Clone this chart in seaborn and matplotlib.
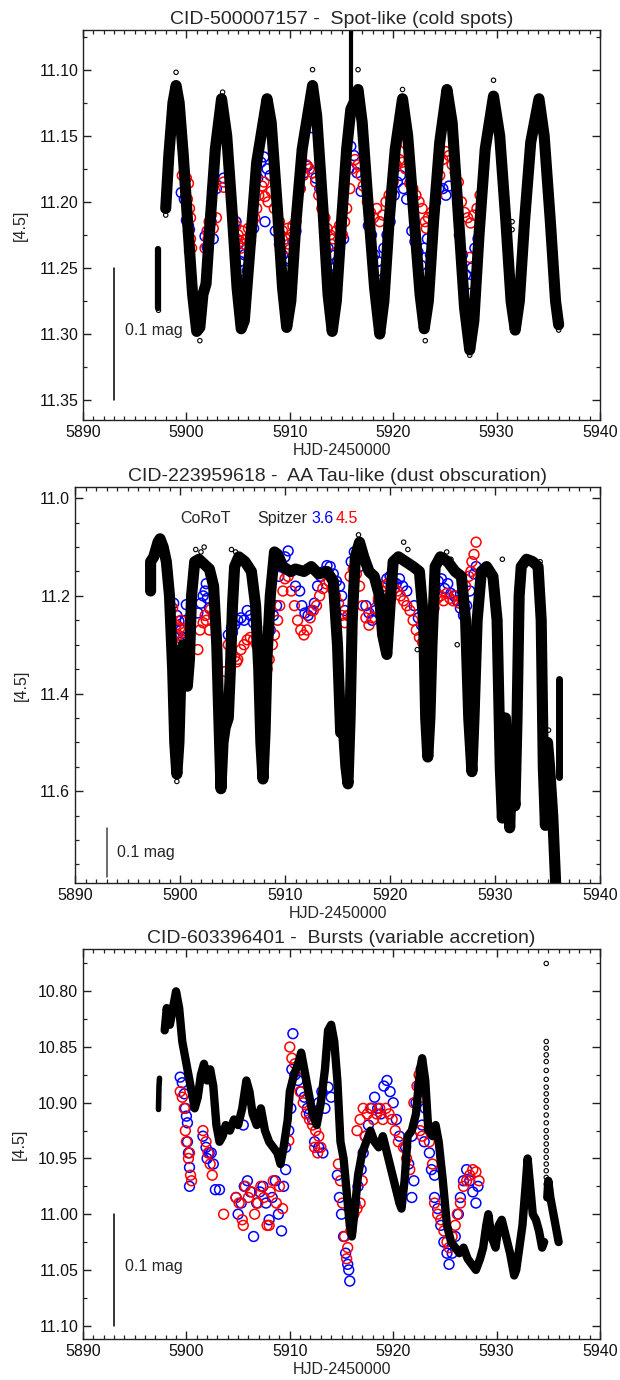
import matplotlib
matplotlib.use("Agg")
import matplotlib.pyplot as plt
from matplotlib.ticker import MultipleLocator, FormatStrFormatter
import numpy as np
import pandas as pd
import seaborn as sns

# ---------------------------------------------------------------
# Panel 1: CID-500007157, spot-like (cold spots)
# ---------------------------------------------------------------
spot_corot_pre = [(5897.25, 11.236), (5897.25, 11.280)]
spot_corot = [
    (5898.0, 11.205), (5898.3, 11.165), (5898.7, 11.125), (5899.0, 11.112),
    (5899.3, 11.125), (5899.7, 11.165), (5900.2, 11.225), (5900.6, 11.270),
    (5901.0, 11.298), (5901.3, 11.295), (5901.6, 11.270), (5901.9, 11.262),
    (5902.3, 11.215), (5902.8, 11.160), (5903.4, 11.122), (5903.9, 11.150),
    (5904.4, 11.205), (5904.9, 11.265), (5905.3, 11.296), (5905.6, 11.290),
    (5906.1, 11.240), (5906.8, 11.170), (5907.8, 11.122), (5908.2, 11.140),
    (5908.8, 11.205), (5909.3, 11.265), (5909.7, 11.295), (5910.1, 11.275),
    (5910.6, 11.215), (5911.2, 11.160), (5912.2, 11.112), (5912.6, 11.135),
    (5913.2, 11.205), (5913.7, 11.270), (5914.1, 11.298), (5914.5, 11.275),
    (5915.0, 11.215), (5915.5, 11.160), (5915.9, 11.130), (5916.2, 11.125),
    (5916.6, 11.115), (5917.0, 11.140), (5917.6, 11.205), (5918.2, 11.265),
    (5918.7, 11.300), (5919.1, 11.275), (5919.6, 11.215), (5920.2, 11.160),
    (5920.9, 11.122), (5921.4, 11.150), (5922.0, 11.210), (5922.6, 11.270),
    (5923.0, 11.296), (5923.4, 11.275), (5923.9, 11.215), (5924.5, 11.155),
    (5925.2, 11.115), (5925.7, 11.140), (5926.3, 11.210), (5926.9, 11.280),
    (5927.4, 11.312), (5927.8, 11.290), (5928.3, 11.225), (5928.9, 11.160),
    (5929.7, 11.120), (5930.3, 11.150), (5930.9, 11.215), (5931.4, 11.275),
    (5931.8, 11.297), (5932.2, 11.275), (5932.7, 11.215), (5933.3, 11.155),
    (5934.1, 11.122), (5934.6, 11.150), (5935.2, 11.215), (5935.7, 11.275),
    (5936.0, 11.293),
]
spot_corot_flare = [(5915.9, 11.135), (5915.9, 11.066)]
spot_corot_stray = [
    (5899.0, 11.102), (5903.5, 11.117), (5912.2, 11.100), (5916.6, 11.100),
    (5920.9, 11.115), (5929.7, 11.108), (5901.3, 11.305), (5923.1, 11.305),
    (5927.4, 11.316), (5931.5, 11.215), (5931.5, 11.221), (5914.2, 11.253),
    (5936.0, 11.297), (5897.3, 11.282), (5898.0, 11.210),
]
spot_irac1 = [
    (5899.5, 11.193), (5899.8, 11.198), (5900.0, 11.214), (5900.2, 11.218),
    (5900.3, 11.221), (5900.3, 11.237), (5901.8, 11.226), (5902.0, 11.234),
    (5902.2, 11.222), (5902.4, 11.215), (5902.6, 11.228), (5902.9, 11.190),
    (5903.6, 11.182), (5904.8, 11.215), (5905.0, 11.232), (5905.2, 11.245),
    (5905.4, 11.252), (5905.6, 11.240), (5905.9, 11.252), (5906.2, 11.230),
    (5906.5, 11.220), (5906.9, 11.182), (5907.2, 11.170), (5907.5, 11.166),
    (5907.8, 11.175), (5908.1, 11.180), (5907.6, 11.215), (5908.6, 11.222),
    (5909.0, 11.232), (5909.3, 11.240), (5909.6, 11.250), (5909.8, 11.262),
    (5910.0, 11.245), (5910.3, 11.230), (5910.6, 11.222), (5911.0, 11.190),
    (5911.4, 11.178), (5911.7, 11.173), (5912.2, 11.144), (5912.5, 11.182),
    (5912.9, 11.190), (5913.4, 11.225), (5913.7, 11.235), (5914.0, 11.240),
    (5914.3, 11.250), (5914.6, 11.245), (5914.9, 11.230), (5915.2, 11.228),
    (5914.4, 11.255), (5915.7, 11.175), (5915.9, 11.158), (5916.2, 11.165),
    (5916.5, 11.178), (5916.9, 11.192), (5917.6, 11.218), (5917.9, 11.225),
    (5918.2, 11.240), (5918.5, 11.245), (5918.8, 11.252), (5919.1, 11.235),
    (5919.4, 11.225), (5919.7, 11.215), (5920.1, 11.195), (5920.4, 11.185),
    (5920.7, 11.180), (5921.0, 11.190), (5921.3, 11.198), (5921.8, 11.222),
    (5922.1, 11.230), (5922.4, 11.238), (5922.7, 11.248), (5923.0, 11.235),
    (5923.3, 11.228), (5923.6, 11.240), (5924.1, 11.200), (5924.4, 11.190),
    (5924.8, 11.190), (5925.1, 11.195), (5925.4, 11.188), (5926.4, 11.225),
    (5926.7, 11.240), (5927.0, 11.255), (5927.3, 11.262), (5927.6, 11.250),
    (5927.9, 11.235), (5928.2, 11.228),
]
spot_irac2 = [
    (5899.6, 11.180), (5899.8, 11.178), (5900.0, 11.182), (5900.2, 11.186),
    (5899.9, 11.190), (5900.1, 11.198), (5900.3, 11.205), (5900.4, 11.212),
    (5900.2, 11.222), (5900.4, 11.228), (5900.5, 11.235), (5901.8, 11.235),
    (5902.0, 11.222), (5902.2, 11.215), (5902.4, 11.210), (5902.6, 11.220),
    (5902.9, 11.212), (5902.1, 11.228), (5903.6, 11.185), (5903.6, 11.189),
    (5904.5, 11.212), (5904.8, 11.218), (5905.0, 11.225), (5905.2, 11.230),
    (5905.4, 11.222), (5905.6, 11.232), (5905.8, 11.228), (5906.0, 11.220),
    (5906.2, 11.226), (5906.4, 11.215), (5906.6, 11.212), (5905.3, 11.235),
    (5906.8, 11.205), (5907.0, 11.195), (5907.3, 11.188), (5907.6, 11.196),
    (5907.9, 11.200), (5908.2, 11.192), (5908.5, 11.205), (5907.5, 11.185),
    (5909.0, 11.215), (5909.3, 11.222), (5909.6, 11.228), (5909.9, 11.232),
    (5910.1, 11.225), (5910.3, 11.218), (5910.6, 11.215), (5909.8, 11.220),
    (5910.0, 11.236), (5911.0, 11.190), (5911.3, 11.180), (5911.6, 11.172),
    (5911.9, 11.175), (5912.2, 11.178), (5912.5, 11.185), (5912.8, 11.195),
    (5913.1, 11.205), (5913.4, 11.212), (5913.6, 11.220), (5913.9, 11.225),
    (5914.2, 11.228), (5914.5, 11.222), (5914.8, 11.218), (5915.1, 11.225),
    (5915.3, 11.215), (5914.0, 11.232), (5915.5, 11.205), (5915.8, 11.190),
    (5916.0, 11.175), (5916.3, 11.168), (5916.6, 11.172), (5916.9, 11.180),
    (5917.1, 11.188), (5917.5, 11.200), (5917.8, 11.208), (5918.1, 11.212),
    (5918.4, 11.205), (5918.7, 11.215), (5919.0, 11.210), (5919.3, 11.200),
    (5919.6, 11.195), (5920.0, 11.185), (5920.3, 11.172), (5920.6, 11.168),
    (5920.9, 11.170), (5921.2, 11.175), (5921.2, 11.156), (5921.6, 11.186),
    (5921.9, 11.190), (5922.2, 11.195), (5922.5, 11.200), (5922.8, 11.205),
    (5923.1, 11.215), (5923.4, 11.212), (5923.7, 11.208), (5923.2, 11.220),
    (5924.2, 11.195), (5924.5, 11.180), (5924.8, 11.168), (5925.1, 11.162),
    (5925.4, 11.165), (5925.7, 11.172), (5926.0, 11.178), (5926.3, 11.185),
    (5926.6, 11.200), (5926.9, 11.208), (5927.2, 11.212), (5927.5, 11.216),
    (5927.8, 11.210), (5928.1, 11.205), (5928.4, 11.195), (5927.4, 11.242),
]

# ---------------------------------------------------------------
# Panel 2: CID-223959618, AA Tau-like (dust obscuration)
# ---------------------------------------------------------------
aatau_corot = [
    (5897.2, 11.19), (5897.2, 11.13), (5897.5, 11.12), (5897.9, 11.09),
    (5898.1, 11.083), (5898.4, 11.10), (5898.7, 11.13), (5899.0, 11.20),
    (5899.3, 11.35), (5899.5, 11.50), (5899.7, 11.565), (5899.9, 11.50),
    (5900.1, 11.35), (5900.3, 11.30), (5900.5, 11.32), (5900.7, 11.385),
    (5900.9, 11.33), (5901.1, 11.20), (5901.4, 11.13), (5901.8, 11.125),
    (5902.3, 11.135), (5902.8, 11.145), (5903.2, 11.18), (5903.5, 11.30),
    (5903.7, 11.45), (5903.9, 11.595), (5904.1, 11.50), (5904.3, 11.47),
    (5904.6, 11.45), (5904.8, 11.35), (5905.0, 11.22), (5905.2, 11.14),
    (5905.6, 11.12), (5906.2, 11.13), (5906.8, 11.15), (5907.2, 11.22),
    (5907.5, 11.35), (5907.7, 11.50), (5907.9, 11.575), (5908.1, 11.48),
    (5908.3, 11.32), (5908.6, 11.20), (5909.0, 11.11), (5909.3, 11.115),
    (5909.8, 11.14), (5910.5, 11.15), (5911.0, 11.145), (5911.8, 11.15),
    (5912.5, 11.14), (5913.2, 11.155), (5914.0, 11.15), (5914.6, 11.17),
    (5915.0, 11.30), (5915.3, 11.48), (5915.5, 11.45), (5915.8, 11.55),
    (5916.0, 11.585), (5916.2, 11.45), (5916.4, 11.25), (5916.7, 11.12),
    (5917.1, 11.09), (5917.5, 11.12), (5918.0, 11.15), (5918.5, 11.16),
    (5919.0, 11.20), (5919.3, 11.28), (5919.7, 11.32), (5920.0, 11.22),
    (5920.3, 11.13), (5920.8, 11.12), (5921.5, 11.13), (5922.2, 11.14),
    (5922.8, 11.15), (5923.2, 11.25), (5923.4, 11.45), (5923.6, 11.53),
    (5923.8, 11.45), (5924.0, 11.30), (5924.3, 11.14), (5924.8, 11.12),
    (5925.5, 11.13), (5926.2, 11.15), (5926.8, 11.16), (5927.2, 11.25),
    (5927.5, 11.45), (5927.8, 11.56), (5928.0, 11.45), (5928.3, 11.25),
    (5928.7, 11.15), (5929.2, 11.14), (5929.8, 11.16), (5930.2, 11.25),
    (5930.5, 11.55), (5930.7, 11.655), (5930.9, 11.55), (5931.0, 11.45),
    (5931.2, 11.58), (5931.4, 11.675), (5931.6, 11.55), (5931.9, 11.63),
    (5932.1, 11.45), (5932.3, 11.20), (5932.5, 11.14), (5933.0, 11.125),
    (5933.6, 11.13), (5934.1, 11.14), (5934.4, 11.25), (5934.6, 11.55),
    (5934.8, 11.67), (5935.0, 11.50), (5935.2, 11.55), (5935.5, 11.65),
    (5935.8, 11.80),
]
aatau_corot_tail = [(5936.05, 11.37), (5936.05, 11.57)]
aatau_corot_stray = [
    (5901.5, 11.105), (5902.0, 11.110), (5902.3, 11.100), (5904.9, 11.105),
    (5905.3, 11.110), (5917.0, 11.075), (5917.1, 11.085), (5921.3, 11.090),
    (5921.7, 11.105), (5925.4, 11.110), (5925.8, 11.125), (5930.7, 11.125),
    (5934.3, 11.130), (5899.7, 11.580), (5903.9, 11.600), (5931.7, 11.470),
    (5935.1, 11.475), (5935.2, 11.595), (5915.3, 11.370), (5916.3, 11.345),
    (5922.6, 11.310), (5926.4, 11.300), (5898.6, 11.130),
]
aatau_irac1 = [
    (5899.4, 11.215), (5899.7, 11.240), (5899.9, 11.252), (5900.1, 11.270),
    (5900.3, 11.285), (5900.0, 11.295), (5900.6, 11.218), (5900.5, 11.250),
    (5901.7, 11.235), (5902.0, 11.215), (5902.2, 11.200), (5902.4, 11.190),
    (5902.6, 11.205), (5902.8, 11.225), (5902.5, 11.175), (5903.2, 11.240),
    (5904.6, 11.280), (5904.9, 11.265), (5905.2, 11.260), (5905.5, 11.250),
    (5905.8, 11.245), (5906.1, 11.250), (5906.4, 11.230), (5906.7, 11.240),
    (5907.0, 11.255), (5907.3, 11.265), (5905.0, 11.275), (5908.0, 11.320),
    (5908.3, 11.300), (5908.6, 11.270), (5908.9, 11.240), (5909.2, 11.220),
    (5909.4, 11.160), (5909.7, 11.140), (5910.0, 11.120), (5910.3, 11.108),
    (5910.6, 11.150), (5911.0, 11.180), (5911.4, 11.190), (5911.6, 11.220),
    (5911.9, 11.235), (5912.2, 11.240), (5912.5, 11.230), (5912.8, 11.215),
    (5913.1, 11.180), (5913.4, 11.160), (5913.7, 11.150), (5914.0, 11.138),
    (5914.3, 11.140), (5914.6, 11.155), (5914.9, 11.170), (5915.2, 11.180),
    (5915.4, 11.200), (5915.7, 11.230), (5916.0, 11.240), (5916.3, 11.130),
    (5916.6, 11.110), (5916.9, 11.115), (5917.1, 11.140), (5917.7, 11.220),
    (5918.0, 11.235), (5918.3, 11.250), (5918.6, 11.230), (5918.9, 11.210),
    (5919.4, 11.180), (5919.7, 11.165), (5920.0, 11.160), (5920.3, 11.170),
    (5920.6, 11.175), (5920.9, 11.165), (5921.2, 11.180), (5921.6, 11.190),
    (5922.3, 11.220), (5922.7, 11.245), (5923.0, 11.260), (5923.3, 11.275),
    (5923.6, 11.280), (5924.0, 11.265), (5924.3, 11.190), (5924.6, 11.170),
    (5924.9, 11.165), (5925.2, 11.185), (5925.5, 11.175), (5925.8, 11.195),
    (5926.1, 11.200), (5926.4, 11.210), (5926.7, 11.225), (5927.0, 11.240),
    (5927.3, 11.220), (5927.6, 11.190), (5928.0, 11.155), (5928.2, 11.140),
]
aatau_irac2 = [
    (5899.3, 11.225), (5899.6, 11.260), (5899.8, 11.280), (5900.0, 11.265),
    (5900.2, 11.290), (5900.4, 11.275), (5900.1, 11.250), (5901.7, 11.310),
    (5901.9, 11.270), (5902.2, 11.255), (5902.5, 11.250), (5902.8, 11.270),
    (5902.4, 11.240), (5902.9, 11.228), (5904.3, 11.355), (5904.6, 11.300),
    (5904.9, 11.310), (5905.2, 11.325), (5905.5, 11.330), (5905.8, 11.310),
    (5906.1, 11.300), (5906.4, 11.290), (5906.7, 11.285), (5907.0, 11.290),
    (5907.3, 11.300), (5905.4, 11.335), (5907.6, 11.320), (5907.8, 11.340),
    (5907.9, 11.380), (5908.1, 11.395), (5908.3, 11.350), (5908.5, 11.330),
    (5908.8, 11.300), (5909.0, 11.280), (5909.3, 11.250), (5909.5, 11.220),
    (5909.8, 11.190), (5910.0, 11.165), (5910.3, 11.160), (5910.6, 11.190),
    (5910.9, 11.220), (5911.2, 11.250), (5911.5, 11.270), (5911.8, 11.280),
    (5912.1, 11.270), (5912.4, 11.245), (5912.7, 11.230), (5913.0, 11.220),
    (5913.3, 11.200), (5913.6, 11.185), (5913.9, 11.175), (5914.2, 11.170),
    (5914.5, 11.185), (5914.8, 11.200), (5915.1, 11.215), (5915.4, 11.240),
    (5915.7, 11.255), (5916.0, 11.240), (5916.2, 11.160), (5916.5, 11.145),
    (5916.8, 11.155), (5917.1, 11.180), (5917.4, 11.220), (5917.7, 11.245),
    (5918.0, 11.260), (5918.3, 11.245), (5918.6, 11.225), (5918.9, 11.205),
    (5919.2, 11.190), (5919.5, 11.180), (5919.8, 11.175), (5920.1, 11.180),
    (5920.4, 11.185), (5920.7, 11.190), (5921.0, 11.200), (5921.3, 11.210),
    (5921.6, 11.220), (5921.9, 11.230), (5922.2, 11.250), (5922.5, 11.270),
    (5922.8, 11.285), (5923.1, 11.295), (5923.4, 11.305), (5923.7, 11.280),
    (5924.0, 11.250), (5924.2, 11.225), (5924.5, 11.205), (5924.8, 11.200),
    (5925.1, 11.210), (5925.4, 11.195), (5925.7, 11.205), (5926.0, 11.210),
    (5926.3, 11.200), (5926.6, 11.215), (5926.9, 11.205), (5927.2, 11.180),
    (5927.5, 11.160), (5927.7, 11.150), (5927.8, 11.130), (5928.0, 11.115),
    (5928.2, 11.090),
]

# ---------------------------------------------------------------
# Panel 3: CID-603396401, bursts (variable accretion)
# ---------------------------------------------------------------
burst_corot_pre = [(5897.3, 10.906), (5897.35, 10.885), (5897.4, 10.878)]
burst_corot = [
    (5897.9, 10.835), (5898.1, 10.815), (5898.4, 10.830), (5898.7, 10.815),
    (5899.0, 10.800), (5899.3, 10.815), (5899.6, 10.845), (5899.9, 10.860),
    (5900.2, 10.875), (5900.5, 10.890), (5900.8, 10.905), (5901.1, 10.895),
    (5901.4, 10.875), (5901.7, 10.865), (5902.0, 10.880), (5902.3, 10.870),
    (5902.6, 10.885), (5902.9, 10.920), (5903.2, 10.935), (5903.5, 10.930),
    (5903.8, 10.920), (5904.2, 10.925), (5904.6, 10.915), (5905.0, 10.920),
    (5905.4, 10.905), (5905.8, 10.880), (5906.1, 10.890), (5906.4, 10.910),
    (5906.8, 10.920), (5907.2, 10.905), (5907.6, 10.925), (5908.0, 10.935),
    (5908.4, 10.940), (5908.8, 10.945), (5909.1, 10.955), (5909.4, 10.940),
    (5909.8, 10.915), (5910.0, 10.890), (5910.4, 10.875), (5910.8, 10.865),
    (5911.1, 10.855), (5911.4, 10.870), (5911.8, 10.890), (5912.2, 10.910),
    (5912.6, 10.920), (5913.0, 10.900), (5913.4, 10.870), (5913.7, 10.835),
    (5914.0, 10.830), (5914.3, 10.845), (5914.6, 10.880), (5914.9, 10.935),
    (5915.2, 10.950), (5915.5, 10.980), (5915.8, 11.010), (5916.0, 11.020),
    (5916.3, 10.995), (5916.6, 10.965), (5917.0, 10.945), (5917.4, 10.935),
    (5917.8, 10.925), (5918.2, 10.935), (5918.6, 10.940), (5919.0, 10.930),
    (5919.4, 10.945), (5919.8, 10.960), (5920.2, 10.975), (5920.6, 10.990),
    (5920.8, 10.995), (5921.1, 10.970), (5921.4, 10.930), (5921.8, 10.925),
    (5922.2, 10.910), (5922.6, 10.870), (5922.8, 10.860), (5923.1, 10.880),
    (5923.4, 10.925), (5923.8, 10.930), (5924.1, 10.920), (5924.4, 10.935),
    (5924.8, 10.970), (5925.2, 11.010), (5925.6, 11.025), (5926.0, 11.030),
    (5926.4, 11.035), (5926.8, 11.030), (5927.2, 11.040), (5927.6, 11.045),
    (5928.0, 11.050), (5928.4, 11.040), (5928.7, 11.030), (5929.0, 11.010),
    (5929.2, 11.000), (5929.5, 11.020), (5929.9, 11.030), (5930.2, 11.010),
    (5930.5, 11.005), (5930.9, 11.020), (5931.3, 11.035), (5931.7, 11.055),
    (5931.9, 11.050), (5932.2, 11.030), (5932.5, 11.010), (5932.8, 10.975),
    (5933.0, 10.950), (5933.2, 10.970), (5933.5, 11.000), (5933.8, 11.005),
    (5934.1, 11.015), (5934.4, 11.030), (5934.6, 11.025),
]
burst_corot_post = [
    (5934.9, 10.985), (5935.0, 10.970), (5935.2, 10.985), (5935.5, 11.000),
    (5935.8, 11.015), (5936.0, 11.025),
]
burst_corot_sparse = [
    (5934.8, 10.775), (5934.8, 10.845), (5934.8, 10.851), (5934.8, 10.857),
    (5934.8, 10.863), (5934.8, 10.871), (5934.8, 10.879), (5934.8, 10.886),
    (5934.8, 10.892), (5934.8, 10.898), (5934.8, 10.904), (5934.8, 10.911),
    (5934.8, 10.918), (5934.8, 10.925), (5934.8, 10.931), (5934.8, 10.937),
    (5934.8, 10.943), (5934.8, 10.949), (5934.8, 10.955), (5934.8, 10.961),
    (5934.8, 10.967), (5934.8, 10.973),
]
burst_irac1 = [
    (5899.4, 10.877), (5899.6, 10.882), (5899.8, 10.892), (5899.9, 10.905),
    (5900.0, 10.912), (5900.1, 10.918), (5900.1, 10.935), (5900.2, 10.945),
    (5900.3, 10.958), (5900.3, 10.975), (5901.6, 10.930), (5901.9, 10.940),
    (5902.2, 10.945), (5902.0, 10.950), (5902.4, 10.945), (5902.6, 10.955),
    (5902.8, 10.978), (5903.2, 10.978), (5905.5, 10.920), (5904.8, 10.985),
    (5905.0, 11.000), (5905.3, 10.990), (5905.6, 10.975), (5905.9, 10.970),
    (5906.2, 10.980), (5906.5, 11.020), (5906.8, 10.990), (5907.1, 10.980),
    (5907.4, 10.975), (5907.7, 10.990), (5908.0, 11.005), (5908.3, 10.985),
    (5908.6, 10.970), (5908.9, 11.000), (5909.2, 11.015), (5909.4, 10.975),
    (5909.6, 10.960), (5909.6, 10.940), (5909.9, 10.925), (5910.1, 10.905),
    (5910.3, 10.838), (5910.2, 10.870), (5910.5, 10.875), (5910.8, 10.880),
    (5911.1, 10.890), (5911.4, 10.895), (5911.7, 10.905), (5911.9, 10.910),
    (5912.2, 10.915), (5912.5, 10.910), (5912.8, 10.900), (5913.1, 10.890),
    (5913.4, 10.905), (5913.7, 10.886), (5914.0, 10.895), (5912.4, 10.935),
    (5912.8, 10.940), (5913.2, 10.945), (5914.6, 10.965), (5914.8, 10.985),
    (5915.0, 11.000), (5915.2, 11.020), (5915.4, 11.035), (5915.6, 11.045),
    (5915.8, 11.060), (5915.7, 11.050), (5916.0, 11.000), (5916.3, 10.990),
    (5916.6, 10.975), (5916.9, 10.960), (5917.1, 10.945), (5917.3, 10.930),
    (5917.6, 10.920), (5917.9, 10.905), (5918.2, 10.895), (5918.5, 10.905),
    (5918.8, 10.910), (5919.1, 10.885), (5919.4, 10.880), (5919.7, 10.890),
    (5920.0, 10.900), (5920.3, 10.915), (5920.6, 10.930), (5921.2, 10.940),
    (5921.5, 10.955), (5921.8, 10.985), (5922.0, 10.970), (5921.8, 10.930),
    (5922.2, 10.900), (5922.5, 10.885), (5922.7, 10.870), (5922.9, 10.890),
    (5923.1, 10.905), (5922.8, 10.920), (5923.0, 10.935), (5923.5, 10.945),
    (5923.7, 10.960), (5924.0, 10.965), (5924.0, 10.985), (5924.3, 10.995),
    (5924.6, 11.010), (5924.9, 11.025), (5925.2, 11.035), (5925.4, 11.045),
    (5925.7, 11.035), (5926.0, 11.020), (5926.3, 11.000), (5926.5, 10.985),
    (5926.8, 10.970), (5927.1, 10.960), (5927.4, 10.970), (5927.7, 10.980),
    (5928.0, 10.990), (5928.2, 10.975),
]
burst_irac2 = [
    (5899.4, 10.890), (5899.6, 10.895), (5899.8, 10.905), (5899.9, 10.925),
    (5900.0, 10.935), (5900.3, 10.945), (5900.2, 10.950), (5900.4, 10.965),
    (5900.5, 10.970), (5901.6, 10.925), (5901.9, 10.935), (5902.1, 10.945),
    (5902.3, 10.955), (5902.5, 10.965), (5903.6, 11.000), (5904.8, 10.985),
    (5905.1, 10.990), (5905.4, 11.005), (5905.7, 10.975), (5906.0, 10.985),
    (5906.3, 10.980), (5906.6, 11.000), (5906.9, 10.990), (5907.2, 10.975),
    (5907.5, 10.985), (5907.8, 11.010), (5908.1, 10.980), (5908.4, 10.970),
    (5908.7, 10.990), (5909.0, 10.975), (5909.3, 10.995), (5905.5, 11.010),
    (5908.0, 11.010), (5909.9, 10.934), (5910.0, 10.850), (5910.2, 10.860),
    (5910.5, 10.865), (5910.8, 10.870), (5911.0, 10.890), (5911.3, 10.900),
    (5911.6, 10.910), (5911.9, 10.915), (5912.2, 10.920), (5912.5, 10.925),
    (5912.8, 10.930), (5912.4, 10.940), (5912.7, 10.945), (5913.0, 10.940),
    (5914.7, 10.955), (5914.9, 10.970), (5915.1, 10.990), (5915.3, 11.020),
    (5915.5, 11.040), (5915.6, 11.030), (5915.9, 11.015), (5916.2, 11.000),
    (5916.5, 10.995), (5916.8, 10.990), (5917.0, 10.970), (5916.5, 10.925),
    (5916.8, 10.915), (5917.1, 10.905), (5917.3, 10.930), (5917.5, 10.910),
    (5917.8, 10.905), (5918.1, 10.915), (5918.4, 10.910), (5918.7, 10.905),
    (5919.0, 10.915), (5919.3, 10.905), (5919.6, 10.910), (5919.9, 10.915),
    (5920.2, 10.925), (5920.5, 10.935), (5921.0, 10.940), (5921.3, 10.950),
    (5921.6, 10.960), (5922.0, 10.900), (5922.3, 10.885), (5922.5, 10.875),
    (5922.7, 10.880), (5922.9, 10.895), (5922.6, 10.925), (5922.8, 10.930),
    (5923.5, 10.935), (5923.8, 10.955), (5924.0, 10.990), (5924.3, 11.000),
    (5924.6, 11.005), (5924.9, 11.015), (5925.2, 11.025), (5925.4, 11.030),
    (5925.7, 11.020), (5926.0, 11.010), (5926.2, 11.000), (5926.5, 10.990),
    (5926.8, 10.975), (5927.1, 10.970), (5927.4, 10.965), (5927.7, 10.960),
    (5928.0, 10.962), (5928.3, 10.970),
]

panel_titles = [
    "CID-500007157 -  Spot-like (cold spots)",
    "CID-223959618 -  AA Tau-like (dust obscuration)",
    "CID-603396401 -  Bursts (variable accretion)",
]
x_ticks = [5890, 5900, 5910, 5920, 5930, 5940]
x_label = "HJD-2450000"
y_label = "[4.5]"
scale_bar_label = "0.1 mag"

BLUE = "#0000ff"
RED = "#ff0000"

sns.set_theme(style="ticks")
plt.rcParams["font.family"] = ["Liberation Sans", "DejaVu Sans"]
plt.rcParams["axes.edgecolor"] = "#222222"
plt.rcParams["axes.linewidth"] = 1.0


def frame(pairs):
    return pd.DataFrame(pairs, columns=["hjd", "mag"])


def draw_band(ax, pairs, lw):
    d = frame(pairs)
    sns.lineplot(data=d, x="hjd", y="mag", ax=ax, sort=False, estimator=None,
                 color="black", lw=lw, solid_joinstyle="round",
                 solid_capstyle="round")


def draw_points(ax, pairs, edge, size, lw):
    d = frame(pairs)
    sns.scatterplot(data=d, x="hjd", y="mag", ax=ax, marker="o", s=size,
                    facecolor="none", edgecolor=edge, linewidth=lw)


def style_axes(ax, ylim, ymajor, yminor, yfmt, title):
    ax.set_xlim(5890, 5940)
    ax.set_ylim(*ylim)
    ax.set_xticks(x_ticks)
    ax.xaxis.set_minor_locator(MultipleLocator(1))
    ax.yaxis.set_major_locator(MultipleLocator(ymajor))
    ax.yaxis.set_minor_locator(MultipleLocator(yminor))
    ax.yaxis.set_major_formatter(FormatStrFormatter(yfmt))
    ax.tick_params(which="both", direction="in", top=True, right=True,
                   color="#222222", labelsize=11.5, labelcolor="#111111")
    ax.tick_params(which="major", length=6, width=1.0)
    ax.tick_params(which="minor", length=3, width=0.9)
    ax.set_xlabel(x_label, fontsize=11.5, labelpad=2)
    ax.set_ylabel(y_label, fontsize=11.5, labelpad=8)
    ax.set_title(title, fontsize=14, pad=4)
    for s in ax.spines.values():
        s.set_visible(True)


fig = plt.figure(figsize=(6.2, 13.8), dpi=100)
fig.patch.set_facecolor("white")

# --- panel 1
ax1 = fig.add_axes([83 / 620, 1 - 420 / 1380, 517 / 620, 390 / 1380])
draw_band(ax1, spot_corot_pre, 4.5)
draw_band(ax1, spot_corot, 8.0)
draw_band(ax1, spot_corot_flare, 3.0)
draw_points(ax1, spot_corot_stray, "black", 10, 0.8)
draw_points(ax1, spot_irac1, BLUE, 50, 1.1)
draw_points(ax1, spot_irac2, RED, 50, 1.1)
ax1.plot([5893, 5893], [11.25, 11.35], color="black", lw=1.1)
ax1.text(5894.1, 11.297, scale_bar_label, fontsize=11.5, va="center", ha="left")
style_axes(ax1, (11.365, 11.07), 0.05, 0.025, "%.2f", panel_titles[0])

# --- panel 2
ax2 = fig.add_axes([75 / 620, 1 - 883 / 1380, 525 / 620, 396 / 1380])
draw_band(ax2, aatau_corot, 8.0)
draw_band(ax2, aatau_corot_tail, 5.0)
draw_points(ax2, aatau_corot_stray, "black", 10, 0.8)
draw_points(ax2, aatau_irac1, BLUE, 50, 1.1)
draw_points(ax2, aatau_irac2, RED, 50, 1.1)
ax2.plot([5893, 5893], [11.675, 11.775], color="#444444", lw=1.1)
ax2.text(5894.0, 11.725, scale_bar_label, fontsize=11.5, va="center", ha="left")
ax2.text(5900.0, 11.041, "CoRoT", fontsize=11.5, va="center", ha="left")
ax2.text(5907.4, 11.041, "Spitzer", fontsize=11.5, va="center", ha="left")
ax2.text(5912.5, 11.041, "3.6", fontsize=11.5, va="center", ha="left", color=BLUE)
ax2.text(5914.85, 11.041, "4.5", fontsize=11.5, va="center", ha="left", color=RED)
style_axes(ax2, (11.788, 10.977), 0.2, 0.05, "%.1f", panel_titles[1])

# --- panel 3
ax3 = fig.add_axes([83 / 620, 1 - 1339 / 1380, 517 / 620, 390 / 1380])
draw_band(ax3, burst_corot_pre, 4.0)
draw_band(ax3, burst_corot, 6.0)
draw_band(ax3, burst_corot_post, 6.0)
draw_points(ax3, burst_corot_sparse, "black", 10, 0.8)
draw_points(ax3, burst_irac1, BLUE, 50, 1.1)
draw_points(ax3, burst_irac2, RED, 50, 1.1)
ax3.plot([5893, 5893], [11.0, 11.1], color="black", lw=1.1)
ax3.text(5894.1, 11.047, scale_bar_label, fontsize=11.5, va="center", ha="left")
style_axes(ax3, (11.112, 10.762), 0.05, 0.025, "%.2f", panel_titles[2])

fig.savefig("out.png", dpi=100, facecolor="white")
